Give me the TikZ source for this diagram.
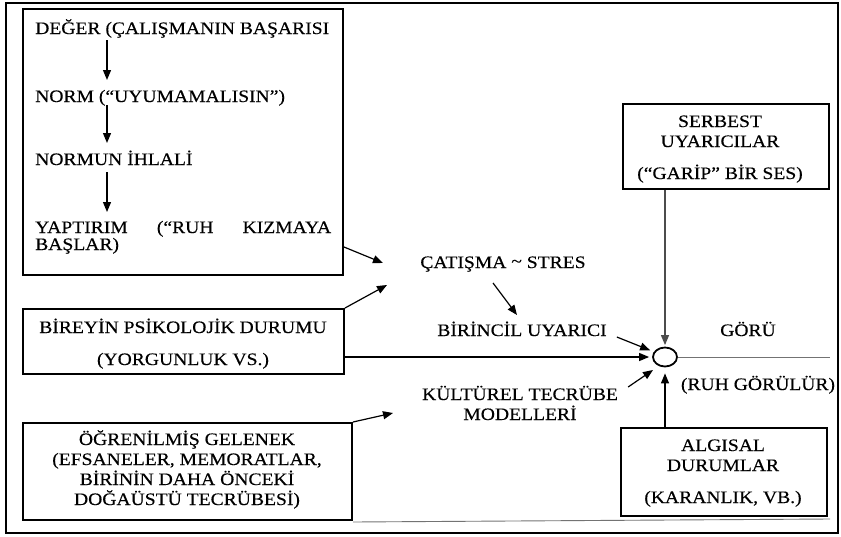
\documentclass[tikz,border=0pt]{standalone}
\usepackage{fontspec}
\setmainfont{Liberation Serif}[FakeStretch=1.12,FakeBold=0.35]
\usetikzlibrary{arrows.meta,shapes.geometric}
\begin{document}
\begin{tikzpicture}[x=1pt,y=-1pt,
  font=\fontsize{17.5}{20}\selectfont,
  box/.style={draw, line width=2pt, inner sep=0pt},
  txt/.style={inner sep=0pt, anchor=base},
  ltxt/.style={inner sep=0pt, anchor=base west},
  conn/.style={line width=1.2pt, -{Triangle[length=10pt,width=8pt]}},
  thinline/.style={draw=black!55, line width=0.9pt}]
\useasboundingbox (0,0) rectangle (841,536);
\draw[line width=1.5pt] (6,3) rectangle (838,533);

% box 1
\node[box, minimum width=320pt, minimum height=266pt] (b1) at (183,142) {};
\node[ltxt] (deger) at (35,34) {DEĞER (ÇALIŞMANIN BAŞARISI};
\node[ltxt] (norm) at (35,102) {NORM (“UYUMAMALISIN”)};
\node[ltxt] (ihlal) at (35,165) {NORMUN İHLALİ};
\node[ltxt] (yapt) at (35,233) {\makebox[296pt][s]{YAPTIRIM\hfill(“RUH\hfill KIZMAYA}};
\node[ltxt] (baslar) at (35,250) {BAŞLAR)};
\draw[conn] ([shift={(72,6)}]deger.base west) -- ([shift={(72,-22)}]norm.base west);
\draw[conn] ([shift={(72,3)}]norm.base west) -- ([shift={(72,-22)}]ihlal.base west);
\draw[conn] ([shift={(72,7)}]ihlal.base west) -- ([shift={(72,-21)}]yapt.base west);

% box 2
\node[box, minimum width=321pt, minimum height=65pt] (b2) at (183.5,341.5) {};
\node[txt] (bireyin) at (183,333) {BİREYİN PSİKOLOJİK DURUMU};
\node[txt] (yorg) at (183,365) {(YORGUNLUK VS.)};

% box 3
\node[box, minimum width=329pt, minimum height=97pt] (b3) at (187.5,471.5) {};
\node[txt] (ogr) at (187,445) {ÖĞRENİLMİŞ GELENEK};
\node[txt] (efs) at (187,465) {(EFSANELER, MEMORATLAR,};
\node[txt] (bir) at (187,485) {BİRİNİN DAHA ÖNCEKİ};
\node[txt] (dog) at (187,505) {DOĞAÜSTÜ TECRÜBESİ)};

% box 4
\node[box, minimum width=206pt, minimum height=85pt] (b4) at (726,146.5) {};
\node[txt] (serb) at (720,127) {SERBEST};
\node[txt] (uyar) at (720,147) {UYARICILAR};
\node[txt] (garip) at (720,179) {(“GARİP” BİR SES)};

% box 5
\node[box, minimum width=206pt, minimum height=88pt] (b5) at (724,472) {};
\node[txt] (alg) at (723,451) {ALGISAL};
\node[txt] (dur) at (723,471) {DURUMLAR};
\node[txt] (kar) at (723,503) {(KARANLIK, VB.)};

% middle texts
\node[txt] (cat) at (503,268) {ÇATIŞMA \raisebox{1pt}{\char`\~} STRES};
\node[txt] (birin) at (522,336) {BİRİNCİL UYARICI};
\node[txt] (kult) at (520,400) {KÜLTÜREL TECRÜBE};
\node[txt] (mod) at (520,420) {MODELLERİ};
\node[txt] (goru) at (748,336) {GÖRÜ};
\node[txt] (ruh) at (758,390) {(RUH GÖRÜLÜR)};

% eye
\node[draw, ellipse, line width=1.8pt, minimum width=24pt, minimum height=19pt, inner sep=0pt] (eye) at (665,357) {};

\coordinate (t1) at (383,263);
\coordinate (t2) at (387,285);
\coordinate (t3) at (393,413);
\coordinate (rend) at (830,357);
\coordinate (bend) at (830,519);

\draw[conn] ([yshift=-105pt]b1.east) -- (t1);
\draw[conn] (b2.north east) -- (t2);
\draw[conn] (b3.north east) -- (t3);
\draw[conn] ([shift={(-10,15)}]cat.base) -- ([shift={(-5,-21)}]birin.base);
\draw[conn, shorten >=4pt] ([shift={(10,1)}]birin.base east) -- (eye.155);
\draw[conn, shorten >=3pt] (b2.east |- eye) -- (eye.west);
\draw[conn] ([shift={(10,-13)}]kult.base east) -- ([shift={(-12,13)}]eye.center);
\draw[conn, shorten >=6pt] (b5.north -| eye) -- (eye.south);
\draw[line width=1.2pt, draw=black!70, fill=black!70, -{Triangle[length=10pt,width=8pt]}, shorten >=1.5pt] (b4.south -| eye) -- (eye.north);
\draw[thinline] (eye.east) -- (rend);
\draw[thinline] ([yshift=-1pt]b3.south east) -- (bend);
\end{tikzpicture}
\end{document}
